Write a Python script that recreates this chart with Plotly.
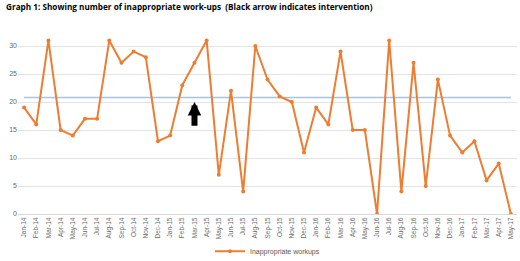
import plotly.graph_objects as go

months = ["Jan-14","Feb-14","Mar-14","Apr-14","May-14","Jun-14","Jul-14","Aug-14","Sep-14","Oct-14","Nov-14","Dec-14",
          "Jan-15","Feb-15","Mar-15","Apr-15","May-15","Jun-15","Jul-15","Aug-15","Sep-15","Oct-15","Nov-15","Dec-15",
          "Jan-16","Feb-16","Mar-16","Apr-16","May-16","Jun-16","Jul-16","Aug-16","Sep-16","Oct-16","Nov-16","Dec-16",
          "Jan-17","Feb-17","Mar-17","Apr-17","May-17"]
workups = [19,16,31,15,14,17,17,31,27,29,28,13,
           14,23,27,31,7,22,4,30,24,21,20,11,
           19,16,29,15,15,0,31,4,27,5,24,14,
           11,13,6,9,0]
mean_level = [20.8] * len(months)
y_ticks = [0, 5, 10, 15, 20, 25, 30]
intervention_month = "Mar-15"
arrow_tip, arrow_tail = 20, 15.5

fig = go.Figure()
fig.add_trace(go.Scatter(x=months, y=mean_level, mode="lines",
                         line=dict(color="#a7c3de", width=1.5), showlegend=False, hoverinfo="skip"))
fig.add_trace(go.Scatter(x=months, y=workups, mode="lines+markers", name="Inappropriate workups",
                         line=dict(color="#ED7D31", width=2), marker=dict(size=4, color="#ED7D31")))

fig.add_annotation(x=intervention_month, y=arrow_tip, ax=intervention_month, ay=arrow_tail,
                   xref="x", yref="y", axref="x", ayref="y", text="", showarrow=True,
                   arrowhead=2, arrowsize=0.45, arrowwidth=6, arrowcolor="black")

fig.add_annotation(text="<b>Graph 1: Showing number of inappropriate work-ups  (Black arrow indicates intervention)</b>",
                   xref="paper", yref="paper", x=-0.028, y=1.0, yshift=12, xanchor="left", yanchor="middle",
                   showarrow=False, font=dict(family="Open Sans", size=8.2, color="black"))

fig.update_layout(
    width=520, height=261,
    margin=dict(l=18, r=3, t=18, b=47, autoexpand=False),
    paper_bgcolor="white", plot_bgcolor="white",
    font=dict(family="Liberation Sans", color="#595959"),
    xaxis=dict(type="category", tickangle=-90, tickfont=dict(size=6.5, color="#6a6a6a"),
               showgrid=False, showline=True, linecolor="#d9d9d9", linewidth=1, ticks="",
               range=[-0.5, len(months) - 0.5], automargin=False),
    yaxis=dict(range=[0, 35], tickvals=y_ticks, tickfont=dict(size=7, color="#6a6a6a"),
               showgrid=True, gridcolor="#e4e4e4", gridwidth=1, zeroline=False, ticks="", showline=False,
               automargin=False),
    legend=dict(orientation="h", x=0.5, xanchor="center", y=-0.19, yanchor="middle",
                font=dict(size=7, color="#595959"), bgcolor="rgba(0,0,0,0)"),
    showlegend=True,
)
fig.write_html("out.html", config={"displayModeBar": False},
               post_script="document.body.style.margin='0';")
